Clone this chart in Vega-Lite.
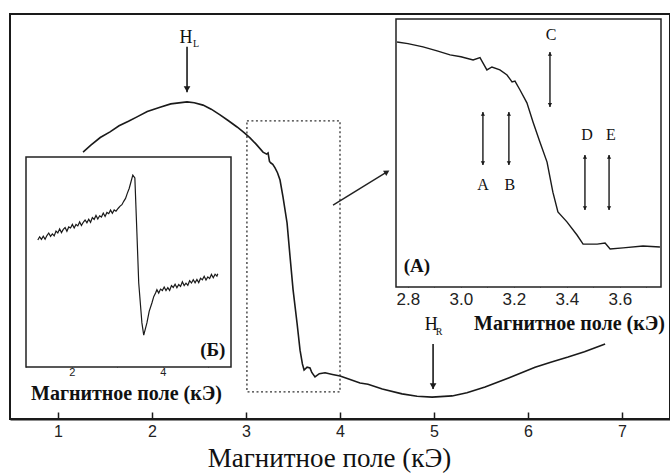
{
  "$schema": "https://vega.github.io/schema/vega-lite/v6.json",
  "width": 660,
  "height": 405,
  "autosize": {"type": "none"},
  "padding": {"left": 10, "top": 14, "right": 0, "bottom": 55},
  "background": "white",
  "config": {"view": {"stroke": "#1a1a1a", "strokeWidth": 2}, "font": "Liberation Serif"},
  "datasets": {
    "main_curve": [
      {"x": 1.267, "y": 65.9}, {"x": 1.35, "y": 67.6}, {"x": 1.45, "y": 69.5}, {"x": 1.554, "y": 70.9},
      {"x": 1.65, "y": 72.4}, {"x": 1.75, "y": 73.5}, {"x": 1.841, "y": 74.6}, {"x": 1.95, "y": 75.9},
      {"x": 2.086, "y": 77.0}, {"x": 2.2, "y": 77.8}, {"x": 2.373, "y": 78.3}, {"x": 2.45, "y": 78.1},
      {"x": 2.543, "y": 77.5}, {"x": 2.63, "y": 76.5}, {"x": 2.724, "y": 75.1}, {"x": 2.81, "y": 73.7},
      {"x": 2.905, "y": 72.1}, {"x": 2.98, "y": 70.7}, {"x": 3.043, "y": 69.4}, {"x": 3.11, "y": 67.8},
      {"x": 3.181, "y": 65.9}, {"x": 3.22, "y": 65.4}, {"x": 3.235, "y": 65.7}, {"x": 3.25, "y": 63.6},
      {"x": 3.265, "y": 63.2}, {"x": 3.285, "y": 62.9}, {"x": 3.309, "y": 62.0}, {"x": 3.335, "y": 60.8},
      {"x": 3.362, "y": 59.0}, {"x": 3.394, "y": 54.8}, {"x": 3.437, "y": 48.4}, {"x": 3.469, "y": 40.0},
      {"x": 3.501, "y": 31.9}, {"x": 3.543, "y": 23.7}, {"x": 3.575, "y": 17.0}, {"x": 3.6, "y": 13.6},
      {"x": 3.618, "y": 12.1}, {"x": 3.65, "y": 12.8}, {"x": 3.681, "y": 12.6}, {"x": 3.7, "y": 11.5},
      {"x": 3.734, "y": 10.4}, {"x": 3.78, "y": 11.2}, {"x": 3.841, "y": 11.4}, {"x": 3.92, "y": 11.0},
      {"x": 4.001, "y": 10.6}, {"x": 4.1, "y": 9.8}, {"x": 4.213, "y": 8.9}, {"x": 4.298, "y": 8.6},
      {"x": 4.45, "y": 7.4}, {"x": 4.66, "y": 6.2}, {"x": 4.82, "y": 5.6}, {"x": 4.979, "y": 5.4},
      {"x": 5.192, "y": 5.7}, {"x": 5.35, "y": 6.5}, {"x": 5.543, "y": 7.9}, {"x": 5.8, "y": 10.2},
      {"x": 6.075, "y": 12.8}, {"x": 6.25, "y": 14.1}, {"x": 6.426, "y": 15.3}, {"x": 6.6, "y": 16.6},
      {"x": 6.82, "y": 18.5}
    ],
    "dotted_box": [{"x": 3.01, "x2": 4.0, "y": 6.7, "y2": 73.6}],
    "h_arrows": [
      {"x": 2.373, "y": 91.9, "y2": 80.7},
      {"x": 4.99, "y": 18.5, "y2": 7.4}
    ],
    "h_labels": [
      {"x": 2.362, "y": 94.1, "t": "H", "sx": 2.47, "sy": 92.6, "s": "L"},
      {"x": 4.97, "y": 23.2, "t": "H", "sx": 5.055, "sy": 21.4, "s": "R"}
    ],
    "diag_arrow": [{"x": 3.926, "y": 52.8, "x2": 4.5, "y2": 61.0}],
    "inset_a_frame": [{"x": 2.755, "x2": 3.755, "y": 0, "y2": 100}],
    "inset_a": [
      {"x": 2.759, "y": 91.4}, {"x": 2.8, "y": 90.8}, {"x": 2.857, "y": 89.6}, {"x": 2.91, "y": 88.1},
      {"x": 2.959, "y": 86.6}, {"x": 3.0, "y": 85.9}, {"x": 3.046, "y": 84.7}, {"x": 3.072, "y": 85.6},
      {"x": 3.083, "y": 83.6}, {"x": 3.098, "y": 81.0}, {"x": 3.117, "y": 82.1}, {"x": 3.147, "y": 81.0},
      {"x": 3.174, "y": 79.1}, {"x": 3.193, "y": 76.5}, {"x": 3.204, "y": 76.8}, {"x": 3.223, "y": 73.5},
      {"x": 3.249, "y": 68.7}, {"x": 3.272, "y": 61.6}, {"x": 3.298, "y": 54.1}, {"x": 3.325, "y": 46.6},
      {"x": 3.347, "y": 35.4}, {"x": 3.366, "y": 28.0}, {"x": 3.4, "y": 24.3}, {"x": 3.438, "y": 19.4},
      {"x": 3.461, "y": 16.0}, {"x": 3.514, "y": 16.0}, {"x": 3.544, "y": 16.4}, {"x": 3.563, "y": 14.2},
      {"x": 3.612, "y": 14.6}, {"x": 3.687, "y": 15.3}, {"x": 3.751, "y": 14.9}
    ],
    "inset_a_arrows": [
      {"x": 3.083, "y": 65.3, "y2": 45.5, "lx": 3.083, "ly": 38.1, "t": "A"},
      {"x": 3.181, "y": 65.3, "y2": 45.5, "lx": 3.185, "ly": 38.1, "t": "B"},
      {"x": 3.336, "y": 87.7, "y2": 67.2, "lx": 3.34, "ly": 94.0, "t": "C"},
      {"x": 3.468, "y": 49.3, "y2": 28.7, "lx": 3.476, "ly": 56.7, "t": "D"},
      {"x": 3.559, "y": 49.3, "y2": 28.7, "lx": 3.566, "ly": 56.7, "t": "E"}
    ],
    "inset_a_label": [{"x": 2.834, "y": 7.8, "t": "(A)"}],
    "inset_b_frame": [{"x": 0.99, "x2": 5.5, "y": 0, "y2": 100}],
    "inset_b": [
      {"x": 1.25, "y": 60.5}, {"x": 1.29, "y": 62.0}, {"x": 1.33, "y": 60.8}, {"x": 1.37, "y": 62.3},
      {"x": 1.41, "y": 60.8}, {"x": 1.45, "y": 62.6}, {"x": 1.49, "y": 63.8}, {"x": 1.53, "y": 62.2},
      {"x": 1.57, "y": 63.4}, {"x": 1.61, "y": 62.4}, {"x": 1.65, "y": 64.7}, {"x": 1.69, "y": 63.8},
      {"x": 1.73, "y": 65.8}, {"x": 1.77, "y": 64.0}, {"x": 1.81, "y": 65.5}, {"x": 1.85, "y": 66.4},
      {"x": 1.89, "y": 64.6}, {"x": 1.93, "y": 66.7}, {"x": 1.97, "y": 66.2}, {"x": 2.01, "y": 67.9},
      {"x": 2.05, "y": 66.2}, {"x": 2.09, "y": 67.9}, {"x": 2.13, "y": 67.2}, {"x": 2.17, "y": 69.1},
      {"x": 2.21, "y": 67.4}, {"x": 2.25, "y": 68.9}, {"x": 2.29, "y": 70.0}, {"x": 2.33, "y": 68.7},
      {"x": 2.37, "y": 70.4}, {"x": 2.41, "y": 68.9}, {"x": 2.45, "y": 71.2}, {"x": 2.49, "y": 70.3},
      {"x": 2.53, "y": 72.2}, {"x": 2.57, "y": 70.5}, {"x": 2.61, "y": 72.0}, {"x": 2.65, "y": 71.4},
      {"x": 2.69, "y": 73.3}, {"x": 2.73, "y": 71.7}, {"x": 2.77, "y": 73.6}, {"x": 2.81, "y": 73.0},
      {"x": 2.85, "y": 74.7}, {"x": 2.89, "y": 73.2}, {"x": 2.93, "y": 74.8}, {"x": 2.97, "y": 74.2},
      {"x": 3.02, "y": 75.6}, {"x": 3.06, "y": 76.6}, {"x": 3.1, "y": 77.3}, {"x": 3.14, "y": 78.9},
      {"x": 3.18, "y": 80.3}, {"x": 3.22, "y": 82.8}, {"x": 3.26, "y": 85.0}, {"x": 3.3, "y": 88.2},
      {"x": 3.34, "y": 91.4}, {"x": 3.385, "y": 90.0}, {"x": 3.43, "y": 63.8}, {"x": 3.47, "y": 40.0},
      {"x": 3.54, "y": 21.0}, {"x": 3.58, "y": 15.2}, {"x": 3.65, "y": 21.0}, {"x": 3.7, "y": 26.5},
      {"x": 3.76, "y": 30.5}, {"x": 3.8, "y": 33.5}, {"x": 3.84, "y": 35.2}, {"x": 3.87, "y": 36.8},
      {"x": 3.91, "y": 35.2}, {"x": 3.95, "y": 37.1}, {"x": 3.99, "y": 36.4}, {"x": 4.03, "y": 38.1},
      {"x": 4.07, "y": 36.4}, {"x": 4.11, "y": 37.8}, {"x": 4.15, "y": 36.5}, {"x": 4.19, "y": 38.8},
      {"x": 4.23, "y": 37.9}, {"x": 4.27, "y": 39.4}, {"x": 4.31, "y": 37.7}, {"x": 4.35, "y": 39.3},
      {"x": 4.39, "y": 38.4}, {"x": 4.43, "y": 40.6}, {"x": 4.47, "y": 38.8}, {"x": 4.51, "y": 39.9},
      {"x": 4.55, "y": 38.9}, {"x": 4.59, "y": 41.1}, {"x": 4.63, "y": 40.0}, {"x": 4.67, "y": 41.6},
      {"x": 4.71, "y": 40.1}, {"x": 4.75, "y": 41.7}, {"x": 4.79, "y": 40.2}, {"x": 4.83, "y": 42.3},
      {"x": 4.87, "y": 41.5}, {"x": 4.91, "y": 43.2}, {"x": 4.95, "y": 41.4}, {"x": 4.99, "y": 42.9},
      {"x": 5.03, "y": 42.1}, {"x": 5.07, "y": 44.1}, {"x": 5.11, "y": 42.5}, {"x": 5.15, "y": 44.2},
      {"x": 5.19, "y": 43.3}, {"x": 5.21, "y": 44.4}
    ],
    "inset_b_label": [{"x": 5.1, "y": 8.1, "t": "(Б)"}]
  },
  "layer": [
    {
      "data": {"name": "main_curve"},
      "mark": {"type": "line", "color": "#1a1a1a", "strokeWidth": 1.6},
      "encoding": {
        "x": {
          "field": "x", "type": "quantitative",
          "scale": {"domain": [0.49, 7.51], "range": [0, 660], "nice": false, "zero": false},
          "axis": {
            "orient": "bottom",
            "values": [1, 1.5, 2, 2.5, 3, 3.5, 4, 4.5, 5, 5.5, 6, 6.5, 7],
            "format": "d",
            "labelExpr": "datum.value % 1 === 0 ? datum.label : ''",
            "tickSize": {"condition": {"test": "datum.value % 1 === 0", "value": -7}, "value": -4},
            "tickColor": "#1a1a1a", "tickWidth": 1.5,
            "domainColor": "#1a1a1a", "domainWidth": 2,
            "labelFont": "Liberation Sans", "labelFontSize": 16, "labelColor": "#222",
            "labelPadding": 11, "labelFlush": false, "labelOverlap": false,
            "grid": false,
            "title": "Магнитное поле (кЭ)",
            "titleFont": "Liberation Serif", "titleFontSize": 27, "titleFontWeight": "normal",
            "titleColor": "#111", "titleX": 319, "titleY": 39, "titleBaseline": "middle"
          }
        },
        "y": {"field": "y", "type": "quantitative", "scale": {"domain": [0, 100], "range": [405, 0], "nice": false, "zero": false}, "axis": null}
      }
    },
    {
      "data": {"name": "dotted_box"},
      "mark": {"type": "rect", "fillOpacity": 0, "stroke": "#333", "strokeWidth": 1.3, "strokeDash": [2, 2.5]},
      "encoding": {
        "x": {"field": "x", "type": "quantitative", "scale": {"domain": [0.49, 7.51], "range": [0, 660], "nice": false, "zero": false}, "axis": null},
        "x2": {"field": "x2"},
        "y": {"field": "y", "type": "quantitative", "scale": {"domain": [0, 100], "range": [405, 0], "nice": false, "zero": false}, "axis": null},
        "y2": {"field": "y2"}
      }
    },
    {
      "data": {"name": "h_arrows"},
      "mark": {"type": "rule", "color": "#1a1a1a", "strokeWidth": 1.6},
      "encoding": {
        "x": {"field": "x", "type": "quantitative", "scale": {"domain": [0.49, 7.51], "range": [0, 660], "nice": false, "zero": false}, "axis": null},
        "y": {"field": "y", "type": "quantitative", "scale": {"domain": [0, 100], "range": [405, 0], "nice": false, "zero": false}, "axis": null},
        "y2": {"field": "y2"}
      }
    },
    {
      "data": {"name": "h_arrows"},
      "mark": {"type": "point", "shape": "triangle-down", "filled": true, "color": "#1a1a1a", "size": 45, "opacity": 1, "yOffset": -3},
      "encoding": {
        "x": {"field": "x", "type": "quantitative", "scale": {"domain": [0.49, 7.51], "range": [0, 660], "nice": false, "zero": false}, "axis": null},
        "y": {"field": "y2", "type": "quantitative", "scale": {"domain": [0, 100], "range": [405, 0], "nice": false, "zero": false}, "axis": null}
      }
    },
    {
      "data": {"name": "h_labels"},
      "mark": {"type": "text", "font": "Liberation Serif", "fontSize": 18, "color": "#111"},
      "encoding": {
        "x": {"field": "x", "type": "quantitative", "scale": {"domain": [0.49, 7.51], "range": [0, 660], "nice": false, "zero": false}, "axis": null},
        "y": {"field": "y", "type": "quantitative", "scale": {"domain": [0, 100], "range": [405, 0], "nice": false, "zero": false}, "axis": null},
        "text": {"field": "t"}
      }
    },
    {
      "data": {"name": "h_labels"},
      "mark": {"type": "text", "font": "Liberation Serif", "fontSize": 10, "color": "#111"},
      "encoding": {
        "x": {"field": "sx", "type": "quantitative", "scale": {"domain": [0.49, 7.51], "range": [0, 660], "nice": false, "zero": false}, "axis": null},
        "y": {"field": "sy", "type": "quantitative", "scale": {"domain": [0, 100], "range": [405, 0], "nice": false, "zero": false}, "axis": null},
        "text": {"field": "s"}
      }
    },
    {
      "data": {"name": "diag_arrow"},
      "mark": {"type": "rule", "color": "#222", "strokeWidth": 1.4},
      "encoding": {
        "x": {"field": "x", "type": "quantitative", "scale": {"domain": [0.49, 7.51], "range": [0, 660], "nice": false, "zero": false}, "axis": null},
        "y": {"field": "y", "type": "quantitative", "scale": {"domain": [0, 100], "range": [405, 0], "nice": false, "zero": false}, "axis": null},
        "x2": {"field": "x2"},
        "y2": {"field": "y2"}
      }
    },
    {
      "data": {"name": "diag_arrow"},
      "mark": {"type": "point", "shape": "triangle-up", "filled": true, "color": "#222", "size": 40, "opacity": 1, "angle": 59},
      "encoding": {
        "x": {"field": "x2", "type": "quantitative", "scale": {"domain": [0.49, 7.51], "range": [0, 660], "nice": false, "zero": false}, "axis": null},
        "y": {"field": "y2", "type": "quantitative", "scale": {"domain": [0, 100], "range": [405, 0], "nice": false, "zero": false}, "axis": null}
      }
    },
    {
      "data": {"name": "inset_a_frame"},
      "mark": {"type": "rect", "fill": "white", "stroke": "#222", "strokeWidth": 1.5},
      "encoding": {
        "x": {"field": "x", "type": "quantitative", "scale": {"domain": [2.755, 3.755], "range": [386, 651], "nice": false, "zero": false}, "axis": null},
        "x2": {"field": "x2"},
        "y": {"field": "y", "type": "quantitative", "scale": {"domain": [0, 100], "range": [273, 5], "nice": false, "zero": false}, "axis": null},
        "y2": {"field": "y2"}
      }
    },
    {
      "data": {"name": "inset_a"},
      "mark": {"type": "line", "color": "#1a1a1a", "strokeWidth": 1.4},
      "encoding": {
        "x": {
          "field": "x", "type": "quantitative",
          "scale": {"domain": [2.755, 3.755], "range": [386, 651], "nice": false, "zero": false},
          "axis": {
            "orient": "bottom", "offset": -132, "domain": false,
            "values": [2.8, 2.9, 3.0, 3.1, 3.2, 3.3, 3.4, 3.5, 3.6, 3.7],
            "format": ".1f",
            "labelExpr": "round(datum.value * 10) % 2 === 0 ? datum.label : ''",
            "tickSize": -3, "tickColor": "#333", "tickWidth": 1,
            "labelFont": "Liberation Sans", "labelFontSize": 17, "labelColor": "#222",
            "labelPadding": 7, "labelFlush": false, "labelOverlap": false, "grid": false,
            "title": "Магнитное поле (кЭ)",
            "titleFont": "Liberation Serif", "titleFontSize": 20, "titleFontWeight": "bold",
            "titleColor": "#111", "titleX": 559, "titleY": 36, "titleBaseline": "middle"
          }
        },
        "y": {"field": "y", "type": "quantitative", "scale": {"domain": [0, 100], "range": [273, 5], "nice": false, "zero": false}, "axis": null}
      }
    },
    {
      "data": {"name": "inset_a_arrows"},
      "mark": {"type": "rule", "color": "#1a1a1a", "strokeWidth": 1.4},
      "encoding": {
        "x": {"field": "x", "type": "quantitative", "scale": {"domain": [2.755, 3.755], "range": [386, 651], "nice": false, "zero": false}, "axis": null},
        "y": {"field": "y", "type": "quantitative", "scale": {"domain": [0, 100], "range": [273, 5], "nice": false, "zero": false}, "axis": null},
        "y2": {"field": "y2"}
      }
    },
    {
      "data": {"name": "inset_a_arrows"},
      "mark": {"type": "point", "shape": "triangle-up", "filled": true, "color": "#1a1a1a", "size": 18, "opacity": 1, "yOffset": 2},
      "encoding": {
        "x": {"field": "x", "type": "quantitative", "scale": {"domain": [2.755, 3.755], "range": [386, 651], "nice": false, "zero": false}, "axis": null},
        "y": {"field": "y", "type": "quantitative", "scale": {"domain": [0, 100], "range": [273, 5], "nice": false, "zero": false}, "axis": null}
      }
    },
    {
      "data": {"name": "inset_a_arrows"},
      "mark": {"type": "point", "shape": "triangle-down", "filled": true, "color": "#1a1a1a", "size": 18, "opacity": 1, "yOffset": -2},
      "encoding": {
        "x": {"field": "x", "type": "quantitative", "scale": {"domain": [2.755, 3.755], "range": [386, 651], "nice": false, "zero": false}, "axis": null},
        "y": {"field": "y2", "type": "quantitative", "scale": {"domain": [0, 100], "range": [273, 5], "nice": false, "zero": false}, "axis": null}
      }
    },
    {
      "data": {"name": "inset_a_arrows"},
      "mark": {"type": "text", "font": "Liberation Serif", "fontSize": 16, "color": "#111"},
      "encoding": {
        "x": {"field": "lx", "type": "quantitative", "scale": {"domain": [2.755, 3.755], "range": [386, 651], "nice": false, "zero": false}, "axis": null},
        "y": {"field": "ly", "type": "quantitative", "scale": {"domain": [0, 100], "range": [273, 5], "nice": false, "zero": false}, "axis": null},
        "text": {"field": "t"}
      }
    },
    {
      "data": {"name": "inset_a_label"},
      "mark": {"type": "text", "font": "Liberation Serif", "fontSize": 19, "fontWeight": "bold", "color": "#111"},
      "encoding": {
        "x": {"field": "x", "type": "quantitative", "scale": {"domain": [2.755, 3.755], "range": [386, 651], "nice": false, "zero": false}, "axis": null},
        "y": {"field": "y", "type": "quantitative", "scale": {"domain": [0, 100], "range": [273, 5], "nice": false, "zero": false}, "axis": null},
        "text": {"field": "t"}
      }
    },
    {
      "data": {"name": "inset_b_frame"},
      "mark": {"type": "rect", "fill": "white", "stroke": "#222", "strokeWidth": 1.5},
      "encoding": {
        "x": {"field": "x", "type": "quantitative", "scale": {"domain": [0.99, 5.5], "range": [16, 221], "nice": false, "zero": false}, "axis": null},
        "x2": {"field": "x2"},
        "y": {"field": "y", "type": "quantitative", "scale": {"domain": [0, 100], "range": [353, 143], "nice": false, "zero": false}, "axis": null},
        "y2": {"field": "y2"}
      }
    },
    {
      "data": {"name": "inset_b"},
      "mark": {"type": "line", "color": "#1a1a1a", "strokeWidth": 1.2},
      "encoding": {
        "x": {
          "field": "x", "type": "quantitative",
          "scale": {"domain": [0.99, 5.5], "range": [16, 221], "nice": false, "zero": false},
          "axis": {
            "orient": "bottom", "offset": -52, "domain": false,
            "values": [1, 2, 3, 4, 5],
            "labelExpr": "datum.value % 2 === 0 ? datum.label : ''",
            "tickSize": -3, "tickColor": "#333", "tickWidth": 1,
            "labelFont": "Liberation Sans", "labelFontSize": 11, "labelColor": "#222",
            "labelPadding": 2, "labelFlush": false, "labelOverlap": false, "grid": false,
            "title": "Магнитное поле (кЭ)",
            "titleFont": "Liberation Serif", "titleFontSize": 20, "titleFontWeight": "bold",
            "titleColor": "#111", "titleX": 116, "titleY": 26, "titleBaseline": "middle"
          }
        },
        "y": {"field": "y", "type": "quantitative", "scale": {"domain": [0, 100], "range": [353, 143], "nice": false, "zero": false}, "axis": null}
      }
    },
    {
      "data": {"name": "inset_b_label"},
      "mark": {"type": "text", "font": "Liberation Serif", "fontSize": 19, "fontWeight": "bold", "color": "#111"},
      "encoding": {
        "x": {"field": "x", "type": "quantitative", "scale": {"domain": [0.99, 5.5], "range": [16, 221], "nice": false, "zero": false}, "axis": null},
        "y": {"field": "y", "type": "quantitative", "scale": {"domain": [0, 100], "range": [353, 143], "nice": false, "zero": false}, "axis": null},
        "text": {"field": "t"}
      }
    }
  ],
  "resolve": {
    "scale": {"x": "independent", "y": "independent"},
    "axis": {"x": "independent", "y": "independent"}
  }
}
